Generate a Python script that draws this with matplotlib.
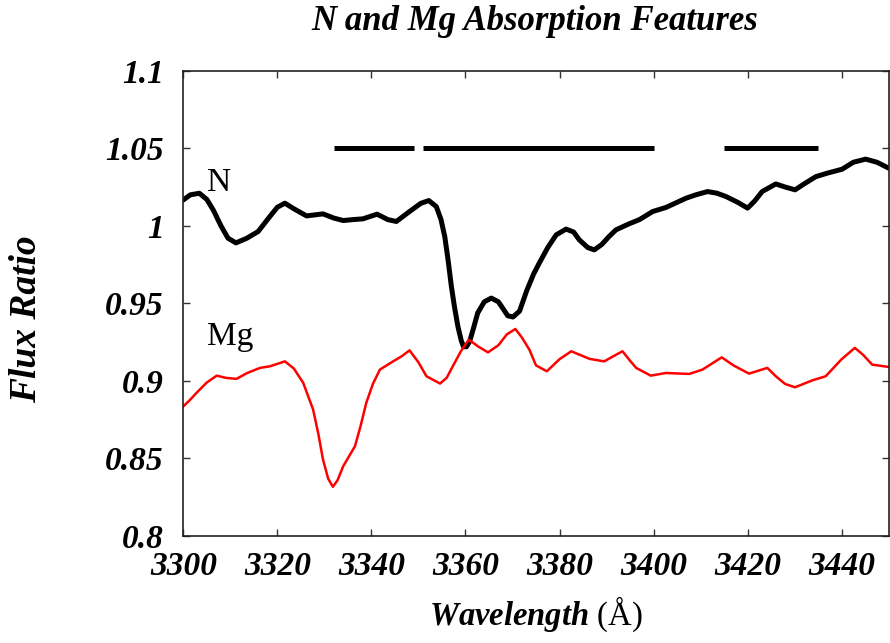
import matplotlib
matplotlib.use("Agg")
import matplotlib.pyplot as plt

# ---- data ----
n_wave = [3300, 3301.5, 3303.4, 3305, 3306.4, 3308, 3309.5, 3311.2, 3313.5, 3315.9,
          3318.4, 3320, 3321.6, 3323.5, 3326.2, 3329.7, 3332, 3334, 3336, 3338.2,
          3341.2, 3343.5, 3345.3, 3348.1, 3350.5, 3352.2, 3353.8, 3354.8, 3355.6, 3356.3,
          3357, 3357.7, 3358.4, 3359.1, 3359.6, 3360.2, 3360.9, 3361.8, 3362.6, 3364,
          3365.5, 3367, 3367.9, 3369, 3370.1, 3371.5, 3373, 3374.5, 3375.7, 3377.5,
          3379.3, 3381.4, 3383, 3384.2, 3386, 3387.4, 3389, 3390.5, 3392, 3394.8,
          3397, 3399.8, 3402.6, 3406.9, 3409, 3411.5, 3413.5, 3415.4, 3418, 3420,
          3421.5, 3423.1, 3426, 3428, 3430.1, 3432, 3434.5, 3437, 3440.1, 3442.5,
          3445.1, 3447.5, 3450]
n_flux = [1.0167, 1.020, 1.021, 1.017, 1.010, 1.000, 0.992, 0.989, 0.992, 0.9963,
          1.006, 1.012, 1.0146, 1.011, 1.0064, 1.0077, 1.005, 1.0034, 1.004, 1.0045,
          1.0075, 1.004, 1.0028, 1.0092, 1.0145, 1.0163, 1.0124, 1.004, 0.993, 0.978,
          0.961, 0.947, 0.935, 0.926, 0.922, 0.922, 0.9255, 0.935, 0.9438, 0.951,
          0.9534, 0.951, 0.947, 0.942, 0.9412, 0.945, 0.958, 0.969, 0.976, 0.986,
          0.9942, 0.9979, 0.996, 0.991, 0.986, 0.9845, 0.988, 0.993, 0.9974, 1.0013,
          1.004, 1.0092, 1.0118, 1.0178, 1.020, 1.0221, 1.021, 1.0189, 1.015, 1.0114,
          1.016, 1.0221, 1.027, 1.025, 1.0232, 1.027, 1.0317, 1.034, 1.0365, 1.041,
          1.043, 1.041, 1.0372]

mg_wave = [3300, 3301.5, 3302.8, 3305, 3307.1, 3309, 3311.3, 3313.5, 3316.3, 3318.4,
           3320, 3321.6, 3323.5, 3325.5, 3327.6, 3328.7, 3329.7, 3330.8, 3331.8, 3332.8,
           3334, 3336.5, 3337.7, 3338.9, 3340.3, 3341.8, 3344.6, 3346.5, 3348.1, 3350,
           3351.7, 3354.6, 3356, 3357.3, 3359, 3360.7, 3362.8, 3364.8, 3367, 3368.8,
           3370.6, 3372, 3373.6, 3375, 3377.3, 3380, 3382.5, 3386.4, 3389.5, 3391.5,
           3393.4, 3395, 3396.3, 3399.4, 3402.6, 3407.6, 3410.4, 3414.5, 3417, 3420.3,
           3424.2, 3426, 3428, 3430.1, 3433.8, 3436.6, 3440, 3442.8, 3444.5, 3446.5,
           3450]
mg_flux = [0.8836, 0.888, 0.8923, 0.899, 0.9034, 0.902, 0.9013, 0.905, 0.9084, 0.9094,
           0.911, 0.9126, 0.908, 0.8987, 0.8815, 0.866, 0.8493, 0.837, 0.8317, 0.836,
           0.845, 0.8579, 0.871, 0.8858, 0.898, 0.9073, 0.9126, 0.916, 0.9197, 0.912,
           0.903, 0.8983, 0.902, 0.9094, 0.919, 0.9266, 0.922, 0.9184, 0.923, 0.930,
           0.9335, 0.928, 0.9201, 0.910, 0.9062, 0.914, 0.9191, 0.9142, 0.9126, 0.916,
           0.9191, 0.913, 0.9084, 0.9034, 0.9051, 0.9045, 0.9073, 0.9152, 0.910, 0.9047,
           0.9084, 0.903, 0.898, 0.8959, 0.9004, 0.903, 0.914, 0.9213, 0.917, 0.9105,
           0.909]

bar_start = [3332, 3351, 3415]
bar_end = [3349, 3400, 3435]
bar_level = 1.05

x_ticks = [3300, 3320, 3340, 3360, 3380, 3400, 3420, 3440]
y_ticks = [0.8, 0.85, 0.9, 0.95, 1.0, 1.05, 1.1]
y_ticklabels = ["0.8", "0.85", "0.9", "0.95", "1", "1.05", "1.1"]

# ---- figure ----
plt.rcParams['mathtext.fontset'] = 'custom'
plt.rcParams['mathtext.it'] = 'Liberation Serif:italic:bold'
plt.rcParams['mathtext.rm'] = 'Liberation Serif'

fig = plt.figure(figsize=(8.9, 6.43), dpi=100)
ax = fig.add_axes([0.206, 0.1664, 0.7925, 0.7236])

ax.plot(n_wave, n_flux, color='black', lw=3.6, solid_joinstyle='round', solid_capstyle='round')
ax.plot(mg_wave, mg_flux, color='#ff0000', lw=1.8, solid_joinstyle='round')
ax.hlines([bar_level] * len(bar_start), bar_start, bar_end, color='black', lw=3.6)

ax.set_xlim(3300, 3450)
ax.set_ylim(0.8, 1.1)
ax.set_xticks(x_ticks)
ax.set_yticks(y_ticks)
ax.set_yticklabels(y_ticklabels)

for lab in ax.get_xticklabels() + ax.get_yticklabels():
    lab.set_fontfamily('Liberation Serif')
    lab.set_fontweight('bold')
    lab.set_fontstyle('italic')
    lab.set_fontsize(24)

ax.tick_params(direction='in', length=5, width=1, top=True, right=True,
               color='#333333')
ax.tick_params(axis='x', pad=11)
ax.tick_params(axis='y', pad=14)
for s in ax.spines.values():
    s.set_linewidth(1.2)
    s.set_color('#222222')

ax.text(3305.0, 1.0227, "N", family='Liberation Serif', size=24, ha='left', va='baseline')
ax.text(3305.0, 0.9234, "Mg", family='Liberation Serif', size=24, ha='left', va='baseline')

fig.text(0.601, 0.966, "N and Mg Absorption Features", family='Liberation Serif',
         weight='bold', style='italic', size=25, ha='center', va='center')

ax.set_ylabel("Flux Ratio", family='Liberation Serif', weight='bold', style='italic',
              size=27)
ax.yaxis.set_label_coords(-0.198, 0.466)
ax.set_xlabel(r"$\mathit{Wavelength}$ (Å)", family='Liberation Serif', size=23.5,
              labelpad=9)

fig.savefig("out.png", dpi=100)
